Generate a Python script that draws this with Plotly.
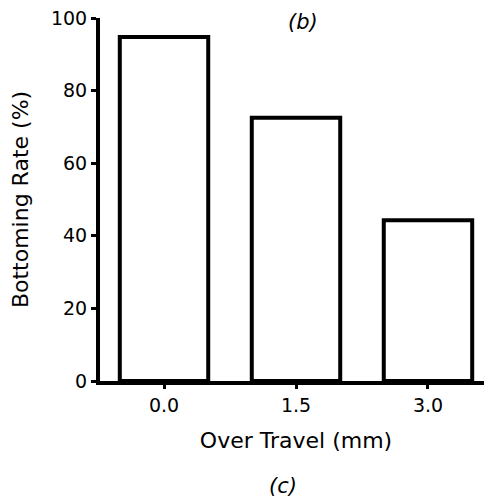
import plotly.graph_objects as go

categories = ["0.0", "1.5", "3.0"]
bottoming_rate = [94.8, 72.5, 44.3]
y_ticks = [0, 20, 40, 60, 80, 100]

FONT = "DejaVu Sans"

# page body adds an 8px margin, so the figure is 8px smaller than the window
W, H = 484, 492
L, R, T, B = 92, 0, 10, 119

fig = go.Figure(
    go.Bar(
        x=categories,
        y=bottoming_rate,
        width=0.67,
        marker=dict(color="white", line=dict(color="black", width=4)),
    )
)

plot_w = W - L - R
plot_h = H - T - B

fig.update_layout(
    width=W,
    height=H,
    margin=dict(l=L, r=R, t=T, b=B),
    paper_bgcolor="white",
    plot_bgcolor="white",
    showlegend=False,
    font=dict(family=FONT, color="black", size=19),
    xaxis=dict(
        type="category",
        range=[-0.485, 2.485],
        automargin=False,
        showline=True,
        linecolor="black",
        linewidth=4,
        ticks="outside",
        ticklen=4,
        tickwidth=3,
        tickcolor="black",
        showgrid=False,
        zeroline=False,
        ticklabeloverflow="allow",
        tickfont=dict(size=19, family=FONT),
        title=dict(text="Over Travel (mm)", font=dict(size=22, family=FONT), standoff=19),
    ),
    yaxis=dict(
        range=[0, 100],
        tickvals=y_ticks,
        automargin=False,
        showline=True,
        linecolor="black",
        linewidth=4,
        ticks="outside",
        ticklen=5,
        tickwidth=3,
        tickcolor="black",
        showgrid=False,
        zeroline=False,
        ticklabeloverflow="allow",
        tickfont=dict(size=19, family=FONT),
        title=dict(text="Bottoming Rate (%)", font=dict(size=22, family=FONT), standoff=28),
    ),
    annotations=[
        dict(text="<i>(b)</i>", xref="paper", yref="paper",
             x=(295 - L) / plot_w, y=(H - B - 14) / plot_h,
             xanchor="center", yanchor="middle",
             showarrow=False, font=dict(size=21, family=FONT)),
        dict(text="<i>(c)</i>", xref="paper", yref="paper",
             x=(275 - L) / plot_w, y=-(478 - (H - B)) / plot_h,
             xanchor="center", yanchor="middle",
             showarrow=False, font=dict(size=21, family=FONT)),
    ],
)

fig.write_html("out.html")
